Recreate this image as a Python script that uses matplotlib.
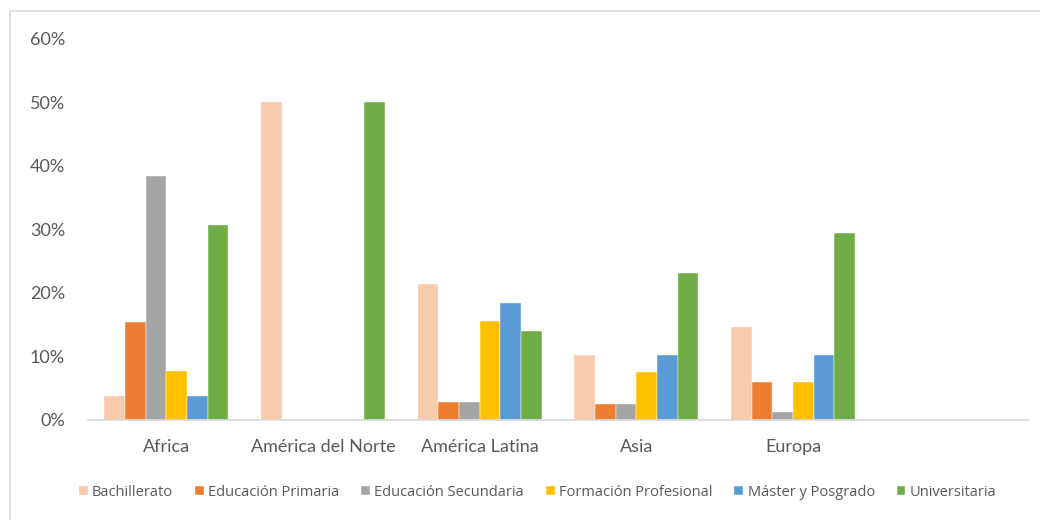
import matplotlib.pyplot as plt
import numpy as np
from matplotlib.patches import Rectangle
from matplotlib.ticker import PercentFormatter

regiones = ['Africa', 'América del Norte', 'América Latina', 'Asia', 'Europa', '']
niveles = ['Bachillerato', 'Educación Primaria', 'Educación Secundaria',
           'Formación Profesional', 'Máster y Posgrado', 'Universitaria']
colores = ['#F8CBAD', '#ED7D31', '#A5A5A5', '#FFC000', '#5B9BD5', '#70AD47']

# share of each education level per region (last region left empty)
bachillerato = [3.8, 50.0, 21.4, 10.2, 14.6, 0]
primaria = [15.4, 0, 2.9, 2.5, 5.9, 0]
secundaria = [38.4, 0, 2.9, 2.5, 1.3, 0]
formacion = [7.7, 0, 15.5, 7.6, 5.9, 0]
master = [3.8, 0, 18.4, 10.2, 10.2, 0]
universitaria = [30.7, 50.0, 14.0, 23.1, 29.4, 0]
series = [bachillerato, primaria, secundaria, formacion, master, universitaria]

gris = '#595959'

fig = plt.figure(figsize=(10.4, 5.2), dpi=100)
# outer chart frame (only top and left edges fall inside the image)
fig.patches.append(Rectangle((10 / 1040, -0.1), 1.2, 1 - 11 / 520 + 0.1,
                             transform=fig.transFigure, fill=False,
                             edgecolor='#D9D9D9', linewidth=1.2))

ax = fig.add_axes([88 / 1040, 1 - 420 / 520, 940 / 1040, (420 - 38.5) / 520])

x = np.arange(len(regiones))
w = 0.132
for i, (nombre, vals, c) in enumerate(zip(niveles, series, colores)):
    ax.bar(x + (i - 2.5) * w, vals, width=w, color=c, label=nombre,
           edgecolor='white', linewidth=0.3)

ax.set_xlim(-0.5, len(regiones) - 0.5)
ax.set_ylim(0, 60)
ax.set_yticks(np.arange(0, 61, 10))
ax.yaxis.set_major_formatter(PercentFormatter(decimals=0))
ax.set_xticks(x)
ax.set_xticklabels(regiones)

for s in ['top', 'right', 'left']:
    ax.spines[s].set_visible(False)
ax.spines['bottom'].set_color('#D9D9D9')
ax.spines['bottom'].set_linewidth(1.2)

ax.tick_params(axis='y', length=0, pad=16.5, labelsize=13, labelcolor=gris)
ax.tick_params(axis='x', length=0, pad=14, labelsize=13, labelcolor=gris)
for lab in ax.get_xticklabels() + ax.get_yticklabels():
    lab.set_family('Lato')

leg = fig.legend(loc='center', bbox_to_anchor=(0.517, 1 - 492 / 520), ncol=6,
                 frameon=False, handlelength=0.6, handleheight=0.6,
                 handletextpad=0.3, columnspacing=1.5,
                 prop={'family': 'Open Sans', 'size': 10.5})
for t in leg.get_texts():
    t.set_color(gris)

fig.savefig('out.png', dpi=100, facecolor='white')
